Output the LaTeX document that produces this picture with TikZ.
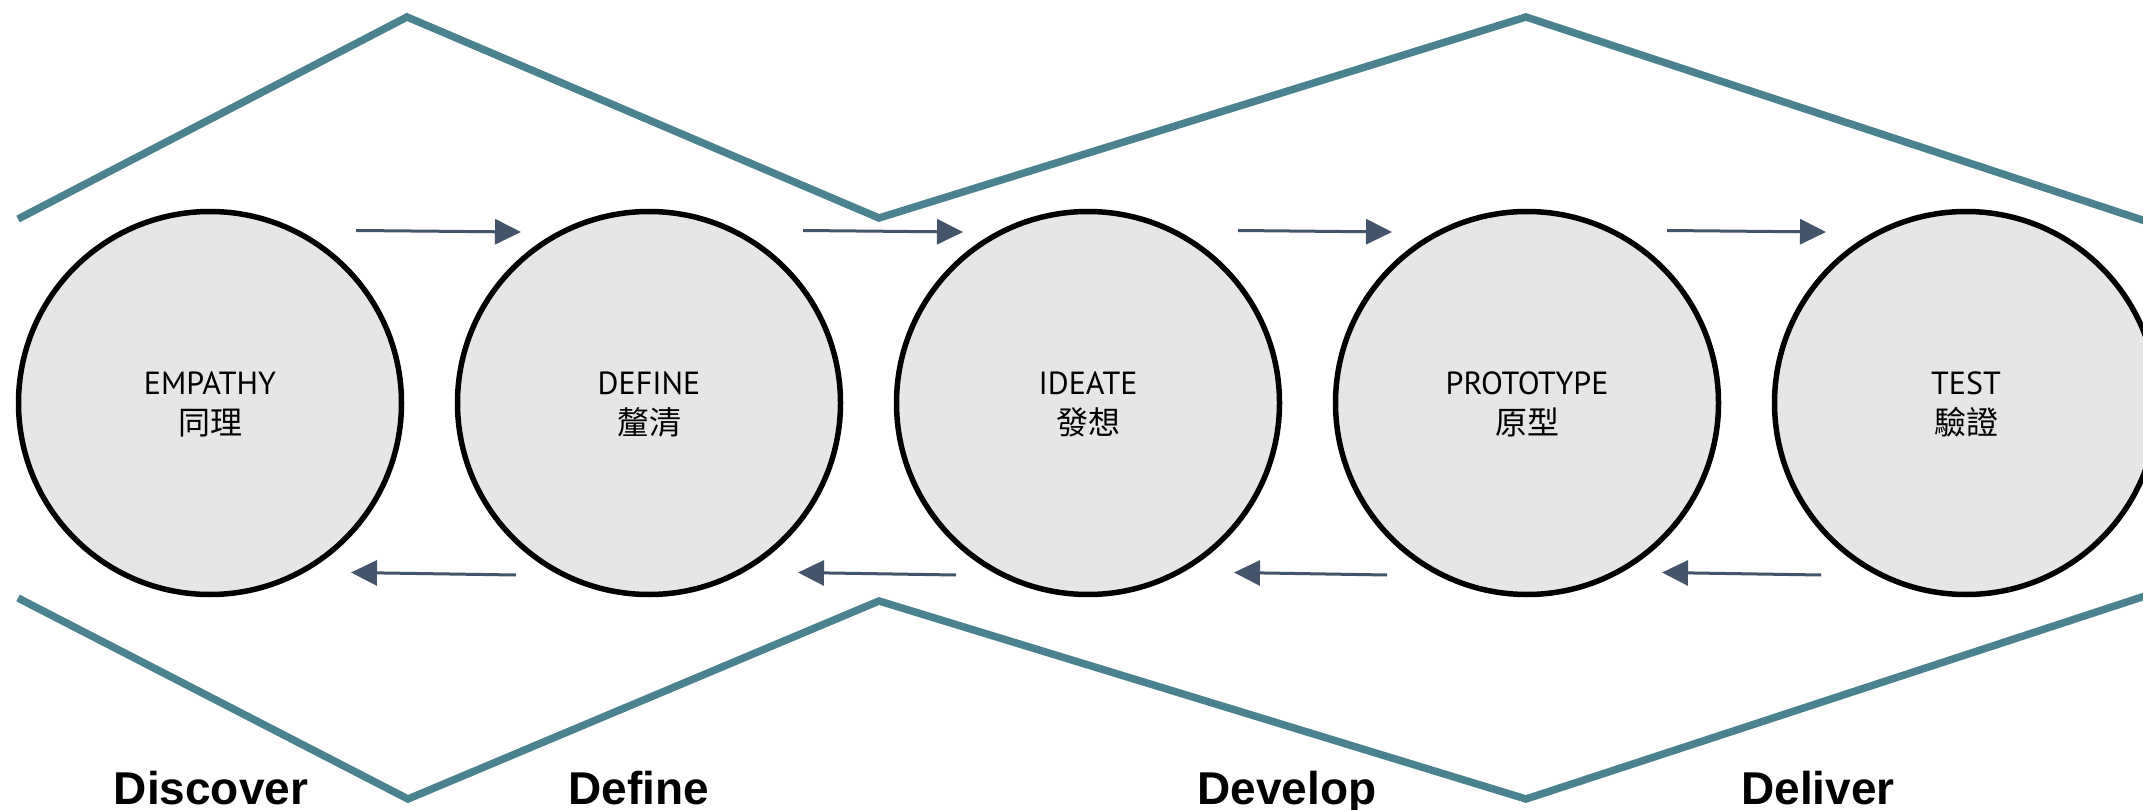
\documentclass[tikz,border=0pt]{standalone}
\usepackage{fontspec}
\usetikzlibrary{arrows.meta}
\newfontfamily\ensans{PT Sans}
\newfontfamily\cjk{Noto Sans CJK TC}
\newfontfamily\labfont{Liberation Sans}
\definecolor{teal}{RGB}{74,130,144}
\definecolor{arrcol}{RGB}{68,84,106}
\definecolor{circfill}{RGB}{230,230,230}
\begin{document}
\begin{tikzpicture}[x=1pt,y=-1pt,
  stage/.style={circle,draw=black,line width=5.5pt,fill=circfill,minimum size=383pt,inner sep=0pt},
  entext/.style={anchor=base,inner sep=0pt,font=\ensans\fontsize{32}{36}\selectfont},
  zhtext/.style={anchor=base,inner sep=0pt,font=\cjk\fontsize{32}{36}\selectfont},
  phase/.style={anchor=base,inner sep=0pt,font=\labfont\bfseries\fontsize{46}{50}\selectfont},
  diamondline/.style={draw=teal,line width=7.5pt,line join=miter},
  flow/.style={draw=arrcol,line width=3pt,-{Triangle[length=26pt,width=25pt]}}
]
\useasboundingbox (0,0) rectangle (2143,810);
\clip (0,0) rectangle (2143,810);
\fill[white] (0,0) rectangle (2143,810);

% double diamond outline
\coordinate (t0) at (18,219);
\coordinate (t1) at (407,17);
\coordinate (t2) at (879,218);
\coordinate (t3) at (1526,17);
\coordinate (t4) at (2200,239);
\coordinate (b0) at (18,598);
\coordinate (b1) at (408,799);
\coordinate (b2) at (879,601);
\coordinate (b3) at (1526,799);
\coordinate (b4) at (2200,578);
\draw[diamondline] (t0) -- (t1) -- (t2) -- (t3) -- (t4);
\draw[diamondline] (b0) -- (b1) -- (b2) -- (b3) -- (b4);

% stages
\node[stage] (c1) at (210,403) {};
\node[stage] (c2) at (649,403) {};
\node[stage] (c3) at (1088,403) {};
\node[stage] (c4) at (1527,403) {};
\node[stage] (c5) at (1966,403) {};

\node[entext] (e1) at (210,394.5) {EMPATHY};
\node[entext] (e2) at (649,394.5) {DEFINE};
\node[entext] (e3) at (1088,394.5) {IDEATE};
\node[entext] (e4) at (1527,394.5) {PROTOTYPE};
\node[entext] (e5) at (1966,394.5) {TEST};

\node[zhtext] (z1) at (210,434) {同理};
\node[zhtext] (z2) at (649,434) {釐清};
\node[zhtext] (z3) at (1088,434) {發想};
\node[zhtext] (z4) at (1527,434) {原型};
\node[zhtext] (z5) at (1966,434) {驗證};

% forward arrows
\coordinate (fs1) at (356,230.5);  \coordinate (fe1) at (521,232);
\coordinate (fs2) at (803,230.5);  \coordinate (fe2) at (963,232);
\coordinate (fs3) at (1238,230.5); \coordinate (fe3) at (1392,232);
\coordinate (fs4) at (1667,230.5); \coordinate (fe4) at (1826,232);
\draw[flow] (fs1) -- (fe1);
\draw[flow] (fs2) -- (fe2);
\draw[flow] (fs3) -- (fe3);
\draw[flow] (fs4) -- (fe4);

% backward arrows
\coordinate (bs1) at (516,575);  \coordinate (be1) at (351,572.5);
\coordinate (bs2) at (956,575);  \coordinate (be2) at (798,572.5);
\coordinate (bs3) at (1387,575); \coordinate (be3) at (1234,572.5);
\coordinate (bs4) at (1821,575); \coordinate (be4) at (1662,572.5);
\draw[flow] (bs1) -- (be1);
\draw[flow] (bs2) -- (be2);
\draw[flow] (bs3) -- (be3);
\draw[flow] (bs4) -- (be4);

% phase labels
\node[phase] (p1) at (211,804) {Discover};
\node[phase] (p2) at (638.5,804) {Define};
\node[phase] (p3) at (1287,804) {Develop};
\node[phase] (p4) at (1818,804) {Deliver};
\end{tikzpicture}
\end{document}
